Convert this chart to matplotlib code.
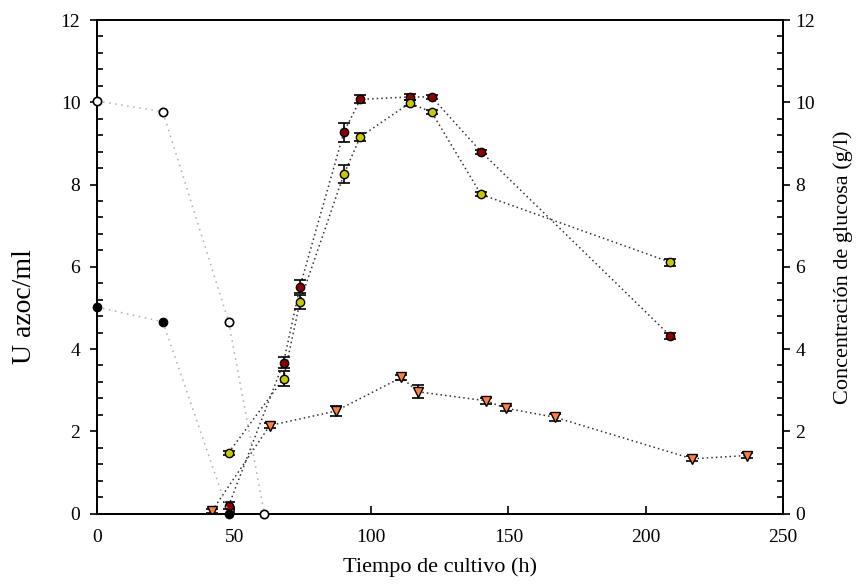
import numpy as np
import matplotlib
matplotlib.use("Agg")
import matplotlib.pyplot as plt
from matplotlib.ticker import MultipleLocator

plt.rcParams['font.family'] = ['Liberation Serif', 'DejaVu Serif']

# Actividad enzimatica (U azoc/ml), serie roja
t_red = [48, 68, 74, 90, 96, 114, 122, 140, 209]
u_red = [0.19, 3.67, 5.52, 9.27, 10.07, 10.13, 10.13, 8.80, 4.32]
e_red = [0.08, 0.13, 0.15, 0.23, 0.10, 0.07, 0.05, 0.05, 0.08]

# serie amarilla
t_yel = [48, 68, 74, 90, 96, 114, 122, 140, 209]
u_yel = [1.48, 3.28, 5.15, 8.25, 9.16, 9.98, 9.76, 7.76, 6.11]
e_yel = [0.05, 0.18, 0.17, 0.22, 0.10, 0.07, 0.05, 0.05, 0.08]

# serie de triangulos naranja
t_tri = [42, 63, 87, 111, 117, 142, 149, 167, 217, 237]
u_tri = [0.07, 2.14, 2.49, 3.31, 2.96, 2.74, 2.56, 2.34, 1.33, 1.41]
e_tri = [0.05, 0.06, 0.12, 0.06, 0.16, 0.07, 0.06, 0.08, 0.06, 0.06]

# Concentracion de glucosa (g/l)
t_glu_open = [0, 24, 48, 61]
glu_open = [10.03, 9.77, 4.66, 0.0]
t_glu_black = [0, 24, 48]
glu_black = [5.02, 4.66, 0.0]

fig = plt.figure(figsize=(8.57, 5.87), dpi=100)
ax = fig.add_axes([0.1132, 0.1252, 0.8001, 0.8407])
ax2 = ax.twinx()

err_kw = dict(ecolor='black', elinewidth=1.2, capsize=4.5, capthick=1.2)

ax.errorbar(t_red, u_red, yerr=e_red, fmt='none', zorder=3, **err_kw)
ax.plot(t_red, u_red, ls=(0, (1, 2)), color='#333333', lw=1.1, zorder=2)
ax.plot(t_red, u_red, 'o', ms=6, mfc='#8b0000', mec='black', mew=1.0, zorder=4)

ax.errorbar(t_yel, u_yel, yerr=e_yel, fmt='none', zorder=3, **err_kw)
ax.plot(t_yel, u_yel, ls=(0, (1, 2)), color='#333333', lw=1.1, zorder=2)
ax.plot(t_yel, u_yel, 'o', ms=6, mfc='#c8c800', mec='black', mew=1.0, zorder=4)

ax.errorbar(t_tri, u_tri, yerr=e_tri, fmt='none', zorder=3, **err_kw)
ax.plot(t_tri, u_tri, ls=(0, (1, 2)), color='#333333', lw=1.1, zorder=2)
ax.plot(t_tri, u_tri, 'v', ms=7, mfc='#ff7f3f', mec='black', mew=1.0, zorder=4)

ax2.plot(t_glu_open, glu_open, ls=(0, (1, 3)), color='#b0b0b0', lw=1.1, zorder=2)
ax2.plot(t_glu_open, glu_open, 'o', ms=6, mfc='white', mec='black', mew=1.2, zorder=4,
         clip_on=False)
ax2.plot(t_glu_black, glu_black, ls=(0, (1, 3)), color='#b0b0b0', lw=1.1, zorder=2)
ax2.plot(t_glu_black, glu_black, 'o', ms=6, mfc='black', mec='black', mew=1.0, zorder=4,
         clip_on=False)

for a in (ax, ax2):
    a.set_xlim(0, 250)
    a.set_ylim(0, 12)
    a.yaxis.set_major_locator(MultipleLocator(2))
    a.yaxis.set_minor_locator(MultipleLocator(0.4))
    a.tick_params(axis='y', which='major', direction='out', length=5, width=1.2, labelsize=14)
    a.tick_params(axis='y', which='minor', direction='in', length=4, width=1.2)
    for s in a.spines.values():
        s.set_linewidth(1.3)

ax.xaxis.set_major_locator(MultipleLocator(50))
ax.tick_params(axis='x', which='major', direction='in', length=6, width=1.2,
               labelsize=14, pad=11)
ax.tick_params(axis='y', which='both', right=False)
ax.tick_params(axis='y', which='major', pad=7)
ax2.tick_params(axis='y', which='both', left=False)
ax2.tick_params(axis='y', which='major', pad=4)

ax.set_xlabel('Tiempo de cultivo (h)', fontsize=16, labelpad=8)
ax.set_ylabel('U azoc/ml', fontsize=20)
ax.yaxis.set_label_coords(-0.088, 0.42)
ax2.set_ylabel('Concentración de glucosa (g/l)', fontsize=16)
ax2.yaxis.set_label_coords(1.074, 0.5)

fig.savefig('out.png', dpi=100)
